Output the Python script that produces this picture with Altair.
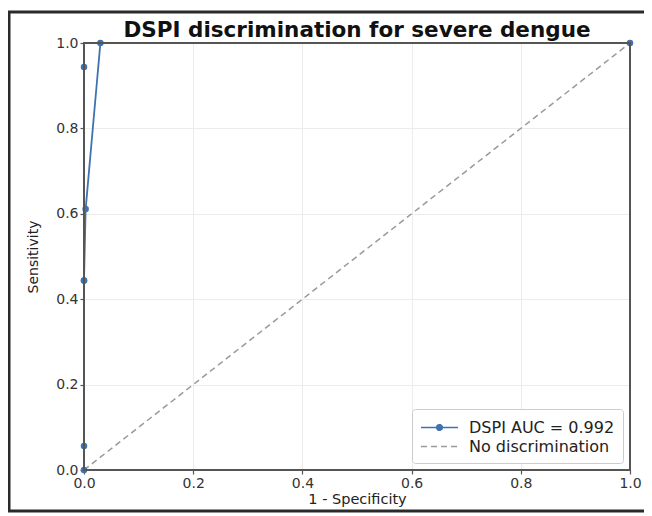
import altair as alt
import pandas as pd

# ROC points (1 - specificity, sensitivity), in the plotted order
fpr = [0.0, 0.0, 0.0, 0.0, 0.0, 0.003, 0.03, 1.0]
tpr = [0.0, 0.056, 0.944, 0.444, 0.444, 0.611, 1.0, 1.0]
diag_x = [0.0, 1.0]
diag_y = [0.0, 1.0]
series = ["DSPI AUC = 0.992", "No discrimination"]
ticks = [0.0, 0.2, 0.4, 0.6, 0.8, 1.0]

BLUE = "#3f72af"
GRAY = "#9a9a9a"
SPINE = "#555555"

roc = pd.DataFrame({"x": fpr, "y": tpr, "series": series[0], "order": list(range(len(fpr)))})
diag = pd.DataFrame({"x": diag_x, "y": diag_y, "series": series[1], "order": [0, 1]})

xs = alt.Scale(domain=[0, 1], nice=False)
ys = alt.Scale(domain=[0, 1], nice=False)
xax = alt.Axis(title="1 - Specificity", values=ticks, format=".1f", labelFlush=False, domain=False)
yax = alt.Axis(title="Sensitivity", values=ticks, format=".1f", labelFlush=False, domain=False)

legend = alt.Legend(title=None, orient="bottom-right", symbolSize=342, symbolStrokeWidth=1.6,
                    symbolOffset=9, labelOffset=19,
                    labelFontSize=16, labelFont="DejaVu Sans", labelColor="#222",
                    strokeColor="#cccccc", padding=8, cornerRadius=3, fillColor="white",
                    offset=7, rowPadding=0)

circ = "".join(
    f"M-{r},0A{r},{r} 0 1,0 {r},0A{r},{r} 0 1,0 -{r},0" for r in (0.3, 0.18, 0.06))
sym_roc = "M-2,0H2" + circ
sym_diag = "M-2,0H2"

color = alt.Color("series:N", scale=alt.Scale(domain=series, range=[BLUE, GRAY]), legend=legend)
dash = alt.StrokeDash("series:N", scale=alt.Scale(domain=series, range=[[1, 0], [6, 4]]), legend=legend)
shape = alt.Shape("series:N", scale=alt.Scale(domain=series, range=[sym_roc, sym_diag]), legend=legend)

diag_line = alt.Chart(diag).mark_line(strokeWidth=1.5).encode(
    x=alt.X("x:Q", scale=xs, axis=xax),
    y=alt.Y("y:Q", scale=ys, axis=yax),
    color=color, strokeDash=dash, order="order:Q")

roc_line = alt.Chart(roc).mark_line(strokeWidth=1.8, clip=False).encode(
    x=alt.X("x:Q", scale=xs), y=alt.Y("y:Q", scale=ys),
    color=color, strokeDash=dash, order="order:Q")

roc_pts = alt.Chart(roc).mark_circle(size=42, opacity=1, color=BLUE, clip=False).encode(
    x=alt.X("x:Q", scale=xs), y=alt.Y("y:Q", scale=ys))

one = pd.DataFrame({"a": [0]})
frame = alt.Chart(one).mark_rect(fill=None, stroke="#2a2a2a", strokeWidth=3, clip=False).encode(
    x=alt.value(-75), x2=alt.value(562), y=alt.value(-31), y2=alt.value(468))
spines = alt.Chart(one).mark_rect(fill=None, stroke=SPINE, strokeWidth=2, clip=False).encode(
    x=alt.value(0), x2=alt.value(546), y=alt.value(0), y2=alt.value(427))

# legend-only layer carrying the marker-on-line symbol
legend_layer = alt.Chart(pd.DataFrame({"series": series, "x": [0.5, 0.5], "y": [0.5, 0.5]})).mark_point(
    opacity=0, filled=False).encode(
    x=alt.X("x:Q", scale=xs), y=alt.Y("y:Q", scale=ys), color=color, shape=shape, strokeDash=dash)

chart = alt.layer(frame, diag_line, roc_line, roc_pts, spines, legend_layer).properties(
    width=546, height=427,
    title=alt.TitleParams("DSPI discrimination for severe dengue", fontSize=21.5,
                          font="DejaVu Sans", fontWeight="bold", color="#111", offset=0, dy=31),
    padding={"left": 76, "top": 35, "right": 14, "bottom": 45},
    autosize=alt.AutoSizeParams(type="none"),
).configure_view(stroke=None).configure_axis(
    labelFont="DejaVu Sans", labelFontSize=14, labelColor="#333",
    titleFont="DejaVu Sans", titleFontSize=15, titleFontWeight="normal", titleColor="#222",
    gridColor="#ececec", gridWidth=1,
    tickColor=SPINE, tickSize=4, tickWidth=1.2, labelPadding=2,
).configure_axisY(titleFontSize=14, titlePadding=15
).configure_axisX(titleFontSize=14.5, titlePadding=2)

chart.save("out.html", embed_options={"renderer": "svg", "actions": False})
